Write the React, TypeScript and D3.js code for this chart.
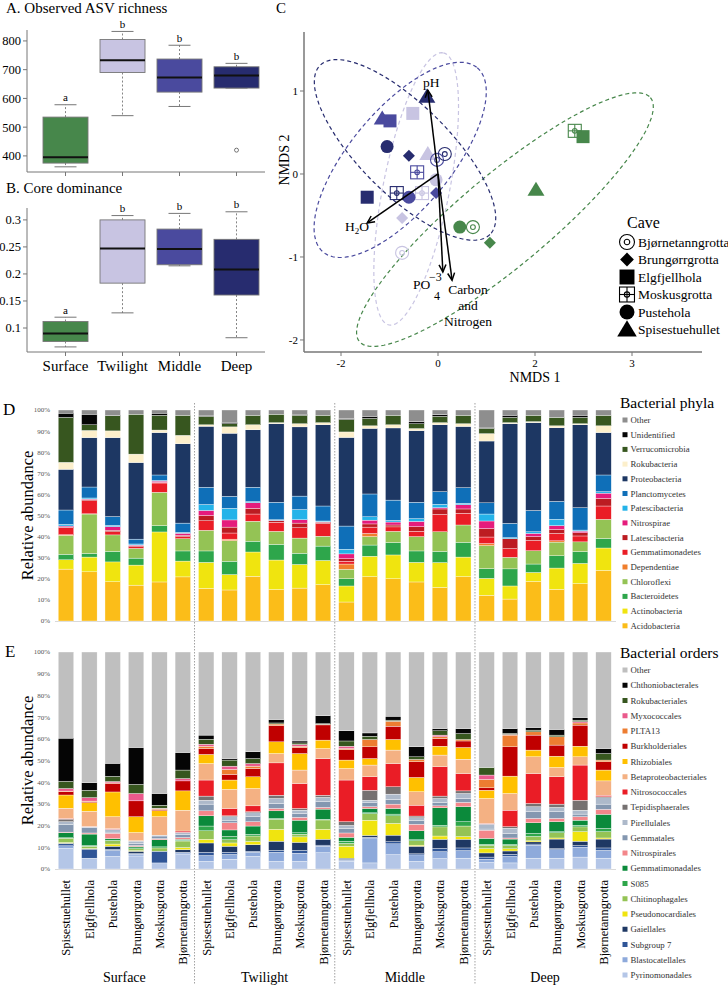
import React from "react";
import * as d3 from "d3";

const FONT = "'Liberation Serif', 'Times New Roman', serif";

// ---------- Panels A & B ----------
const zones = ["Surface", "Twilight", "Middle", "Deep"];
const zoneColors = ["#47874b", "#c8c4e2", "#4a4a9e", "#272c6f"];
const groupLetters = ["a", "b", "b", "b"];

const richnessLow = [362, 540, 572, 636];
const richnessQ1 = [375, 690, 622, 636];
const richnessMedian = [395, 733, 673, 680];
const richnessQ3 = [535, 805, 737, 710];
const richnessHigh = [578, 833, 785, 722];
const richnessOutliers = [[], [], [], [420]];
const richnessTicks = [400, 500, 600, 700, 800];

const dominanceLow = [0.065, 0.128, 0.215, 0.082];
const dominanceQ1 = [0.075, 0.183, 0.217, 0.161];
const dominanceMedian = [0.09, 0.247, 0.246, 0.208];
const dominanceQ3 = [0.112, 0.3, 0.283, 0.264];
const dominanceHigh = [0.12, 0.308, 0.312, 0.315];
const dominanceOutliers = [[], [], [], []];
const dominanceTicks = [0.1, 0.15, 0.2, 0.25, 0.3];

// ---------- Panel C (NMDS) ----------
const caves = ["Bjørnetanngrotta", "Brungørrgrotta", "Elgfjellhola", "Moskusgrotta", "Pustehola", "Spisestuehullet"];
const nmdsZone = [
  "Surface", "Surface", "Surface", "Surface", "Surface", "Surface",
  "Twilight", "Twilight", "Twilight", "Twilight", "Twilight", "Twilight",
  "Middle", "Middle", "Middle", "Middle", "Middle", "Middle",
  "Deep", "Deep", "Deep", "Deep", "Deep", "Deep",
];
const nmdsCave = [...caves, ...caves, ...caves, ...caves];
const nmds1 = [0.72, 1.07, 2.99, 2.82, 0.45, 2.02, -0.74, -0.74, -0.52, -0.33, -0.04, -0.21, -0.02, -0.04, -0.99, -0.43, -0.6, -1.15, 0.14, -0.6, -1.46, -0.85, -1.05, -0.23];
const nmds2 = [-0.64, -0.83, 0.45, 0.52, -0.64, -0.19, -0.95, -0.53, 0.73, -0.23, -0.07, 0.24, 0.17, -0.23, 0.64, 0.02, -0.28, 0.67, 0.24, 0.22, -0.28, -0.23, 0.33, 0.93];

// ellipses: zone, centre, two conjugate semi-axis vectors (NMDS units)
const ellipseZone = ["Surface", "Twilight", "Deep", "Middle"];
const ellipseCenter = [[1.38, -0.55], [-0.45, -0.18], [-0.68, 0.29], [-0.78, 0.17]];
const ellipseAxisU = [[3.0, 1.47], [0.56, 1.64], [1.75, -1.02], [1.59, 1.11]];
const ellipseAxisV = [[0.6, -0.42], [0.67, -0.08], [-0.66, -0.38], [0.79, -0.39]];

const vectorNames = ["pH", "H2O", "PO4", "CN"];
const vectorX = [-0.21, -1.46, 0.1, 0.29];
const vectorY = [1.01, -0.59, -1.18, -1.28];

const nmdsYTicks = [-2, -1, 0, 1];
const nmdsXTicks = [-2, 0, 2, 4];
const nmdsXTickLabels = ["-2", "0", "2", "3"];

// ---------- Panel D (phyla) ----------
const sampleCaves = ["Spisestuehullet", "Elgfjellhola", "Pustehola", "Brungørrgrotta", "Moskusgrotta", "Bjørnetanngrotta"];

const phyla = ["Acidobacteria", "Actinobacteria", "Bacteroidetes", "Chloroflexi", "Dependentiae", "Gemmatimonadetes", "Latescibacteria", "Nitrospirae", "Patescibacteria", "Planctomycetes", "Proteobacteria", "Rokubacteria", "Verrucomicrobia", "Unidentified", "Other"];
const phylaColors = ["#fbbd19", "#f0e40f", "#2ea64b", "#94c355", "#f07e2d", "#ea1d26", "#bc1c22", "#e51c7c", "#24b3e9", "#0f6fb8", "#1d3763", "#fcefcb", "#37561f", "#050505", "#8e8e8e"];

const acidobacteria = [24.6, 23.3, 18.6, 17, 18.5, 20.9, 15.4, 14.7, 21.2, 14.9, 15.6, 17.2, 9, 21, 20, 18.5, 15.9, 21, 12.2, 10.4, 18.7, 15, 17.7, 24];
const actinobacteria = [4.4, 7, 9.4, 9.5, 23.7, 7.5, 12.4, 7.3, 11.5, 14, 11.2, 11.5, 7.6, 9.7, 11.3, 9.3, 11.8, 9.3, 8, 6.2, 4.3, 10.1, 9.6, 10.6];
const bacteroidetes = [2.6, 1.7, 5, 3.3, 3, 4.8, 5.4, 6.3, 5.1, 7.4, 5.3, 6.8, 3.4, 5.3, 5.9, 5.4, 5.3, 7, 4.6, 8.1, 4, 5.8, 5.6, 4.5];
const chloroflexi = [9, 18.7, 7.8, 4.6, 15.8, 5.8, 9.8, 9.8, 9.5, 6.2, 7.2, 4.7, 4.5, 4, 5.3, 6.8, 9.3, 8.2, 10.9, 5.5, 6.3, 6.5, 4.6, 9.1];
const dependentiae = [0.3, 0.1, 0, 0, 0, 0, 0, 0.7, 0, 0, 0, 0, 2.5, 1.5, 0, 0, 0, 0, 1, 0, 0, 0.6, 0, 0];
const gemmatimonadetes = [3.3, 6.2, 1.5, 0.8, 4.4, 1, 4.5, 2.9, 3.4, 4.3, 4.9, 6, 1.3, 3, 2.1, 2.5, 8.2, 5.6, 3.1, 4.1, 4.9, 3.5, 2.8, 6.3];
const latescibacteria = [0.3, 0.5, 0.7, 0.4, 0.3, 0.6, 2.5, 2.8, 2.7, 0.7, 2.2, 0.6, 1.2, 1.5, 0.9, 2.2, 2.6, 2, 4, 4.7, 1.8, 1.9, 1.5, 3.6];
const nitrospirae = [0.5, 0.3, 1.7, 0.4, 0.6, 1, 2.4, 3.4, 2.7, 0.2, 1.6, 0.2, 2.3, 1.8, 1.4, 2.5, 0.6, 2, 3.6, 0, 1.5, 1.8, 0.8, 2.5];
const patescibacteria = [0.8, 0.5, 0.6, 0.5, 0.3, 0.4, 2.8, 5.5, 0.5, 0.3, 4.8, 0.4, 2.2, 1.6, 0.8, 1.3, 1.6, 0.7, 3.3, 0.5, 0.8, 3, 0.5, 0.7];
const planctomycetes = [6.8, 5.2, 4.2, 2.3, 2.6, 4.4, 8.2, 5.7, 6.8, 8.3, 6.4, 7.1, 11, 10.8, 9.6, 7.8, 6, 7.4, 5.3, 6.8, 10.1, 8.5, 10.6, 7.9];
const proteobacteria = [19.3, 23.4, 37.4, 36.3, 20.1, 37.6, 28.9, 29.9, 27.2, 37.2, 32.8, 38.5, 42, 31.1, 34.2, 33.9, 31.7, 29, 29.3, 47.2, 41.6, 34.9, 39.3, 20.1];
const rokubacteria = [3.3, 3.4, 3.2, 4, 1.2, 4, 0.7, 3, 2.4, 0.5, 1.5, 1, 2.6, 1.2, 1.5, 1, 1, 1.3, 3.5, 0.5, 0.5, 0.9, 0.5, 3.2];
const verrucomicrobia = [21.3, 2.7, 7.2, 18.9, 7, 9.5, 4, 1.5, 4.5, 4, 4, 3.5, 5.9, 3.5, 4.5, 2.3, 3, 4, 2.5, 2.5, 3, 4, 3, 5];
const unidentifiedPhyla = [2, 5, 0.2, 0, 1, 0, 0.5, 0.7, 0, 0, 0.5, 0, 0.5, 1, 0, 1, 0.8, 0, 0.2, 1, 0, 0, 1, 0];
const otherPhyla = [1.5, 2, 2.5, 2, 1.5, 2.5, 2.5, 5.8, 2.5, 2, 2, 2.5, 4, 3, 2.5, 5.5, 2.2, 2.5, 8.5, 2.5, 2.5, 3.5, 2.5, 2.5];
const phylaValues = [acidobacteria, actinobacteria, bacteroidetes, chloroflexi, dependentiae, gemmatimonadetes, latescibacteria, nitrospirae, patescibacteria, planctomycetes, proteobacteria, rokubacteria, verrucomicrobia, unidentifiedPhyla, otherPhyla];

// ---------- Panel E (orders) ----------
const orders = ["Pyrinomonadales", "Blastocatellales", "Subgroup 7", "Gaiellales", "Pseudonocardiales", "Chitinophagales", "S085", "Gemmatimonadales", "Nitrospirales", "Gemmatales", "Pirellulales", "Tepidisphaerales", "Nitrosococcales", "Betaproteobacteriales", "Rhizobiales", "Burkholderiales", "PLTA13", "Myxococcales", "Rokubacteriales", "Chthoniobacterales", "Other"];
const orderColors = ["#b4c6e7", "#8eaadb", "#2f5597", "#1f3864", "#f0e40f", "#94c355", "#2ea64b", "#0b8a3b", "#f3868a", "#8497b0", "#adb9ca", "#767171", "#ea1d26", "#f4b183", "#ffc000", "#c00000", "#ed7d31", "#ea5a8c", "#37561f", "#050505", "#bfbfbf"];

const pyrinomonadales = [9.5, 5, 5.8, 6, 2.8, 6.6, 3.5, 4.5, 5.8, 3.5, 3.5, 7.5, 3.5, 2.8, 6.6, 3.5, 4.8, 5, 3, 2.8, 5, 5, 5.5, 5];
const blastocatellales = [1.2, 0, 2.8, 0.8, 0, 0.8, 2.7, 2.2, 1.9, 4.2, 3.8, 3, 0.5, 11.5, 5, 3, 3.2, 3.5, 1.5, 3, 6, 3.9, 4.5, 3.6];
const subgroup7 = [1, 4, 0.5, 0.4, 5.4, 0.3, 1.5, 1, 0.5, 0.9, 1.3, 0.5, 0.5, 0.3, 1, 0.5, 1.5, 1.2, 1, 1, 0.5, 0.5, 0.8, 1.1];
const gaiellales = [0.2, 0.3, 1.4, 1, 0, 1.2, 4.3, 2.8, 3, 4.2, 3.7, 2.7, 0.5, 0.9, 3, 3.5, 4.2, 4, 1.9, 1.5, 1, 4.4, 2, 4.1];
const pseudonocardiales = [0.3, 0.2, 1, 0.3, 0, 1, 1.7, 1.5, 1.5, 5.5, 2.5, 4.6, 5.5, 7, 5.4, 0.5, 1.5, 1.2, 2, 1, 0.5, 0.5, 4.4, 0.5];
const chitinophagales = [2, 1, 1.5, 0.8, 1.5, 3, 3.9, 1.5, 2.5, 4.6, 1.2, 4.3, 1.3, 3, 3.5, 2, 4.2, 4.9, 1.5, 1.5, 2, 2.4, 2.2, 2.9];
const s085 = [0.2, 0.3, 0.3, 0.4, 0.5, 0.3, 2.2, 1.5, 0.8, 0.4, 0.7, 0.3, 1, 0.4, 0.8, 0.5, 0.8, 2, 0.5, 0.5, 1.4, 0.5, 0.8, 1.5];
const gemmatimonadales = [2.3, 5.3, 0.7, 0.6, 3.3, 0.5, 4.7, 3, 3.8, 3.5, 5.8, 4.7, 1.8, 2, 2.6, 4.1, 8, 6.9, 2.7, 2.5, 4.9, 4.6, 2.3, 6.5];
const nitrospirales = [0.3, 0.5, 2.5, 0.5, 0.5, 0.8, 2.3, 3.3, 2, 1.1, 1.3, 0.8, 2, 0.8, 2, 3, 0.9, 2, 3.8, 0.5, 2, 1.5, 1.6, 2.3];
const gemmatales = [3.5, 2.5, 0.5, 1, 1.2, 1.5, 3.1, 1.2, 2.3, 2.3, 1.8, 2.6, 2, 1.8, 2.2, 1.8, 1.6, 1.8, 0.5, 2, 3.1, 3.1, 1.2, 2.4];
const pirellulales = [1.3, 0.3, 1.3, 1, 0.4, 0.9, 1.8, 1.6, 1.8, 2.3, 1.5, 2, 1.5, 1.2, 2.4, 1.2, 1.8, 2.3, 2.3, 2.5, 2.3, 2, 1.8, 2.9];
const tepidisphaerales = [1.2, 0, 0, 0.2, 0, 0, 1.9, 0.4, 0.5, 1.5, 0.8, 1, 1.7, 4.6, 3.4, 0.8, 1.1, 1.2, 0, 0.7, 1.5, 1.5, 4.6, 0.5];
const nitrosococcales = [0.3, 0.2, 0.3, 0, 0, 0.6, 7.4, 3.4, 2.7, 14.9, 11.5, 16.9, 19.2, 6.2, 10.7, 5, 13.5, 8, 0.3, 7.6, 13.8, 12.6, 16.2, 0.7];
const betaproteobacteriales = [4.7, 7, 5.5, 3.8, 8.5, 9.6, 7.6, 8.8, 8, 4.3, 6.2, 4.6, 5.3, 5.4, 6.2, 6.2, 5.4, 6.6, 11.5, 7.7, 7.7, 4.3, 3.8, 6.6];
const rhizobiales = [6.1, 4, 11.4, 7.3, 2.8, 8.9, 4.2, 4.3, 5.4, 5.4, 7.6, 3.9, 3.9, 3, 4.9, 6.6, 4.1, 5.4, 3.8, 8, 3.1, 5.2, 4.9, 5];
const burkholderiales = [1.5, 0.5, 4, 7.3, 0.5, 4.6, 2.7, 2.6, 3.8, 7.5, 2.8, 7, 4.8, 5.4, 6.1, 7.2, 3.5, 3, 1.1, 13.5, 6.9, 5.1, 9.7, 3.8];
const plta13 = [0.3, 0.2, 0.2, 0, 0.3, 0, 1.1, 2.3, 1.1, 0.7, 0.6, 0.3, 0.5, 3.4, 2.3, 1.1, 0.8, 0.7, 3.9, 5.4, 1.5, 3.8, 1, 0.8];
const myxococcales = [1.2, 1.6, 0.6, 3.4, 0.3, 1.1, 0.9, 1.5, 1.2, 0, 0.8, 0, 1.1, 0, 0, 0, 0.8, 0, 2, 0.3, 0, 0, 0.6, 0];
const rokubacteriales = [3.3, 3.4, 2.4, 4.2, 1.4, 3.9, 2.3, 2.8, 2.3, 0.5, 0.7, 0.3, 2.4, 1.5, 0.5, 1.2, 2, 2.7, 3.5, 0.5, 0.8, 0.8, 0.7, 3];
const chthoniobacterales = [19.9, 3.5, 6, 17, 5.4, 8.1, 1.9, 0.7, 3.1, 1.6, 0.9, 3.6, 4.7, 1.5, 1.8, 4.6, 1, 2.3, 0, 2.2, 1.2, 2.6, 1.2, 2.3];
const otherOrders = [39.7, 60.2, 51.3, 44, 65.2, 46.3, 38.3, 49.1, 46, 31.1, 41, 29.4, 36.3, 37.3, 29.6, 43.7, 35.3, 35.3, 53.2, 35.3, 34.8, 35.7, 30.2, 44.5];
const orderValues = [pyrinomonadales, blastocatellales, subgroup7, gaiellales, pseudonocardiales, chitinophagales, s085, gemmatimonadales, nitrospirales, gemmatales, pirellulales, tepidisphaerales, nitrosococcales, betaproteobacteriales, rhizobiales, burkholderiales, plta13, myxococcales, rokubacteriales, chthoniobacterales, otherOrders];

const percentTicks = [0, 10, 20, 30, 40, 50, 60, 70, 80, 90, 100];

// ---------- helpers ----------
const sampleIds = zones.flatMap((z) => sampleCaves.map((c) => `${z}|${c}`));

function BoxPanel(props: any) {
  const { yScale, low, q1, med, q3, high, outliers, ticks, top, bottom, showLabels } = props;
  const x = d3.scalePoint().domain(zones).range([65.5, 236.5]);
  const bw = 45;
  const axisX = 27;
  return (
    <g>
      <line x1={axisX} x2={axisX} y1={top} y2={bottom} stroke="#777" strokeWidth={1} />
      <line x1={axisX} x2={265} y1={bottom} y2={bottom} stroke="#777" strokeWidth={1} />
      {ticks.map((t: number) => (
        <g key={t}>
          <line x1={axisX - 4} x2={axisX} y1={yScale(t)} y2={yScale(t)} stroke="#777" />
          <text x={axisX - 6} y={yScale(t)} dy="0.35em" textAnchor="end" fontSize={12.5} fontFamily={FONT}>{String(t)}</text>
        </g>
      ))}
      {zones.map((z, i) => {
        const cx = x(z) as number;
        return (
          <g key={z}>
            <line x1={cx} x2={cx} y1={bottom} y2={bottom + 4} stroke="#777" />
            <line x1={cx} x2={cx} y1={yScale(q3[i])} y2={yScale(high[i])} stroke="#666" strokeDasharray="2,2" strokeWidth={0.8} />
            <line x1={cx} x2={cx} y1={yScale(q1[i])} y2={yScale(low[i])} stroke="#666" strokeDasharray="2,2" strokeWidth={0.8} />
            <line x1={cx - 11} x2={cx + 11} y1={yScale(high[i])} y2={yScale(high[i])} stroke="#666" strokeWidth={0.9} />
            <line x1={cx - 11} x2={cx + 11} y1={yScale(low[i])} y2={yScale(low[i])} stroke="#666" strokeWidth={0.9} />
            <rect x={cx - bw / 2} y={yScale(q3[i])} width={bw} height={yScale(q1[i]) - yScale(q3[i])} fill={zoneColors[i]} stroke="#777" strokeWidth={0.9} />
            <line x1={cx - bw / 2} x2={cx + bw / 2} y1={yScale(med[i])} y2={yScale(med[i])} stroke="#111" strokeWidth={2} />
            {outliers[i].map((o: number, k: number) => (
              <circle key={k} cx={cx} cy={yScale(o)} r={2} fill="none" stroke="#555" strokeWidth={0.8} />
            ))}
            <text x={cx} y={yScale(high[i]) - 3.5} textAnchor="middle" fontSize={11} fontFamily={FONT}>{groupLetters[i]}</text>
            {showLabels && (
              <text x={cx} y={bottom + 19} textAnchor="middle" fontSize={15} fontFamily={FONT}>{z}</text>
            )}
          </g>
        );
      })}
    </g>
  );
}

function CaveSymbol(props: any) {
  const { cave, x, y, color, s } = props;
  const t = `translate(${x},${y})`;
  if (cave === "Bjørnetanngrotta")
    return (
      <g transform={t}>
        <circle r={6.5 * s} fill="none" stroke={color} strokeWidth={1.1} />
        <circle r={2.4 * s} fill="none" stroke={color} strokeWidth={1.1} />
      </g>
    );
  if (cave === "Brungørrgrotta")
    return <path transform={t} d={`M0,${-6 * s}L${6 * s},0L0,${6 * s}L${-6 * s},0Z`} fill={color} />;
  if (cave === "Elgfjellhola")
    return <rect transform={t} x={-6.5 * s} y={-6.5 * s} width={13 * s} height={13 * s} fill={color} />;
  if (cave === "Moskusgrotta")
    return (
      <g transform={t} stroke={color} strokeWidth={1.1} fill="none">
        <rect x={-6.5 * s} y={-6.5 * s} width={13 * s} height={13 * s} />
        <line x1={-6.5 * s} x2={6.5 * s} y1={0} y2={0} />
        <line x1={0} x2={0} y1={-6.5 * s} y2={6.5 * s} />
        <circle r={2.3 * s} />
      </g>
    );
  if (cave === "Pustehola") return <circle cx={x} cy={y} r={6.5 * s} fill={color} />;
  return <path transform={t} d={`M0,${-8 * s}L${8.5 * s},${6 * s}L${-8.5 * s},${6 * s}Z`} fill={color} />;
}

function NmdsPanel() {
  const x = d3.scaleLinear().domain([-2.763, 5.443]).range([304, 702]);
  const y = d3.scaleLinear().domain([-2.145, 1.711]).range([352, 32]);
  const zoneColor = (z: string) => zoneColors[zones.indexOf(z)];
  const ellipseLine = d3.line<[number, number]>().x((d) => x(d[0])).y((d) => y(d[1])).curve(d3.curveLinearClosed);
  const angles = d3.range(0, 2 * Math.PI, Math.PI / 60);
  const arrowHead = (x1: number, y1: number, x2: number, y2: number) => {
    const a = Math.atan2(y2 - y1, x2 - x1);
    const L = 8, w = 0.45;
    return `M${x2 - L * Math.cos(a - w)},${y2 - L * Math.sin(a - w)}L${x2},${y2}L${x2 - L * Math.cos(a + w)},${y2 - L * Math.sin(a + w)}`;
  };
  const ox = x(0), oy = y(0);
  return (
    <g>
      <text x={276} y={13} fontSize={15} fontFamily={FONT}>C</text>
      <line x1={304} x2={304} y1={32} y2={352} stroke="#777" strokeWidth={1.5} />
      <line x1={304} x2={702} y1={352} y2={352} stroke="#777" strokeWidth={1.5} />
      {nmdsYTicks.map((t) => (
        <g key={t}>
          <line x1={300} x2={304} y1={y(t)} y2={y(t)} stroke="#777" />
          <text x={298} y={y(t)} dy="0.35em" textAnchor="end" fontSize={11} fontFamily={FONT}>{String(t)}</text>
        </g>
      ))}
      {nmdsXTicks.map((t, i) => (
        <g key={t}>
          <line x1={x(t)} x2={x(t)} y1={352} y2={356} stroke="#777" />
          <text x={x(t)} y={367} textAnchor="middle" fontSize={11} fontFamily={FONT}>{nmdsXTickLabels[i]}</text>
        </g>
      ))}
      <text x={535} y={382} textAnchor="middle" fontSize={14} fontFamily={FONT}>NMDS 1</text>
      <text transform="translate(289,160) rotate(-90)" textAnchor="middle" fontSize={14} fontFamily={FONT}>NMDS 2</text>
      {ellipseZone.map((z, i) => {
        const pts = angles.map((a) => [
          ellipseCenter[i][0] + ellipseAxisU[i][0] * Math.cos(a) + ellipseAxisV[i][0] * Math.sin(a),
          ellipseCenter[i][1] + ellipseAxisU[i][1] * Math.cos(a) + ellipseAxisV[i][1] * Math.sin(a),
        ]) as [number, number][];
        return <path key={i} d={ellipseLine(pts) as string} fill="none" stroke={zoneColor(z)} strokeWidth={1.2} strokeDasharray="4,3" />;
      })}
      {nmds1.map((v, i) => (
        <CaveSymbol key={i} cave={nmdsCave[i]} x={x(v)} y={y(nmds2[i])} color={zoneColor(nmdsZone[i])} s={1} />
      ))}
      {vectorNames.map((n, i) => {
        const tx = x(vectorX[i]), ty = y(vectorY[i]);
        return (
          <g key={n} stroke="#000" strokeWidth={1.5} fill="none">
            <line x1={ox} y1={oy} x2={tx} y2={ty} />
            <path d={arrowHead(ox, oy, tx, ty)} />
          </g>
        );
      })}
      <g fontFamily={FONT} fontSize={13.5}>
        <text x={423} y={87}>pH</text>
        <text x={345} y={231}>H<tspan fontSize={9} dy={3}>2</tspan><tspan dy={-3}>O</tspan></text>
        <text x={413} y={289}>PO</text>
        <text x={429} y={281} fontSize={12}>−3</text>
        <text x={434} y={300} fontSize={12}>4</text>
        <text x={468} y={294} textAnchor="middle">Carbon</text>
        <text x={468} y={310} textAnchor="middle">and</text>
        <text x={468} y={326} textAnchor="middle">Nitrogen</text>
      </g>
      <text x={627} y={228} fontSize={16} fontFamily={FONT}>Cave</text>
      {caves.map((c, i) => (
        <g key={c}>
          <CaveSymbol cave={c} x={627} y={242 + i * 17.5} color="#000" s={1.15} />
          <text x={638} y={242 + i * 17.5} dy="0.35em" fontSize={13.5} fontFamily={FONT}>{c}</text>
        </g>
      ))}
    </g>
  );
}

function StackPanel(props: any) {
  const { keys, colors, values, top, bottom, letter, title, legendTop, legendStep } = props;
  const x = d3.scaleBand().domain(sampleIds).range([54.3, 615.2]).paddingInner(0.337).paddingOuter(0.1685);
  const y = d3.scaleLinear().domain([0, 100]).range([bottom, top]);
  const rows = sampleIds.map((id, j) => {
    const r: any = { id };
    keys.forEach((k: string, i: number) => (r[k] = values[i][j]));
    return r;
  });
  const series = d3.stack().keys(keys)(rows);
  return (
    <g>
      <text x={letter === "D" ? 3 : 5} y={top + 5} fontSize={17} fontFamily={FONT}>{letter}</text>
      {percentTicks.map((t) => (
        <text key={t} x={50} y={y(t)} dy="0.35em" textAnchor="end" fontSize={7} fill="#555" fontFamily={FONT}>{`${t}%`}</text>
      ))}
      <text transform={`translate(33,${(top + bottom) / 2}) rotate(-90)`} textAnchor="middle" fontSize={16.5} fontFamily={FONT}>Relative abundance</text>
      <line x1={55} x2={616} y1={bottom + 0.5} y2={bottom + 0.5} stroke="#d9d9d9" strokeWidth={1} />
      {series.map((s: any, i: number) => (
        <g key={keys[i]} fill={colors[i]}>
          {s.map((d: any, j: number) => {
            const h = y(d[0]) - y(d[1]);
            if (h <= 0) return null;
            return <rect key={j} x={x(sampleIds[j])} y={y(d[1])} width={x.bandwidth()} height={h} stroke="#fff" strokeWidth={0.35} />;
          })}
        </g>
      ))}
      <text x={620} y={legendTop - 12} fontSize={15.5} fontFamily={FONT}>{title}</text>
      {keys.slice().reverse().map((k: string, i: number) => {
        const idx = keys.length - 1 - i;
        const cy = legendTop + i * legendStep;
        return (
          <g key={k}>
            <rect x={622.5} y={cy - 2.5} width={5} height={5} fill={colors[idx]} />
            <text x={630.5} y={cy} dy="0.35em" fontSize={8.8} fill="#333" fontFamily={FONT}>{k}</text>
          </g>
        );
      })}
    </g>
  );
}

export default function App() {
  const yA = d3.scaleLinear().domain([344, 838]).range([172, 30]);
  const yB = d3.scaleLinear().domain([0.0556, 0.322]).range([352, 208]);
  const xBars = d3.scaleBand().domain(sampleIds).range([54.3, 615.2]).paddingInner(0.337).paddingOuter(0.1685);
  const groupCenters = zones.map((z) => {
    const first = xBars(`${z}|${sampleCaves[0]}`) as number;
    const last = xBars(`${z}|${sampleCaves[sampleCaves.length - 1]}`) as number;
    return (first + last + xBars.bandwidth()) / 2;
  });
  const separators = zones.slice(1).map((z, i) => {
    const prevLast = (xBars(`${zones[i]}|${sampleCaves[5]}`) as number) + xBars.bandwidth();
    const nextFirst = xBars(`${z}|${sampleCaves[0]}`) as number;
    return (prevLast + nextFirst) / 2;
  });
  return (
    <svg width={728} height={991} style={{ position: "absolute", left: 0, top: 0, background: "#fff" }} fontFamily={FONT}>
      <rect width={728} height={991} fill="#fff" />
      <text x={6} y={13} fontSize={15} fontFamily={FONT}>A. Observed ASV richness</text>
      <BoxPanel yScale={yA} low={richnessLow} q1={richnessQ1} med={richnessMedian} q3={richnessQ3} high={richnessHigh} outliers={richnessOutliers} ticks={richnessTicks} top={30} bottom={172} showLabels={false} />
      <text x={6} y={193} fontSize={15} fontFamily={FONT}>B. Core dominance</text>
      <BoxPanel yScale={yB} low={dominanceLow} q1={dominanceQ1} med={dominanceMedian} q3={dominanceQ3} high={dominanceHigh} outliers={dominanceOutliers} ticks={dominanceTicks} top={208} bottom={352} showLabels={true} />
      <NmdsPanel />
      {separators.map((sx, i) => (
        <line key={i} x1={sx} x2={sx} y1={403} y2={985} stroke="#888" strokeWidth={0.8} strokeDasharray="1.5,1.5" />
      ))}
      <StackPanel keys={phyla} colors={phylaColors} values={phylaValues} top={410} bottom={621} letter="D" title="Bacterial phyla" legendTop={420} legendStep={14.7} />
      <StackPanel keys={orders} colors={orderColors} values={orderValues} top={652} bottom={869} letter="E" title="Bacterial orders" legendTop={670} legendStep={15.25} />
      {sampleIds.map((id) => {
        const cx = (xBars(id) as number) + xBars.bandwidth() / 2;
        return (
          <text key={id} transform={`translate(${cx + 4.5},880) rotate(-90)`} textAnchor="end" fontSize={12.5} fontFamily={FONT}>{id.split("|")[1]}</text>
        );
      })}
      {zones.map((z, i) => (
        <text key={z} x={groupCenters[i]} y={982} textAnchor="middle" fontSize={14} fontFamily={FONT}>{z}</text>
      ))}
    </svg>
  );
}
